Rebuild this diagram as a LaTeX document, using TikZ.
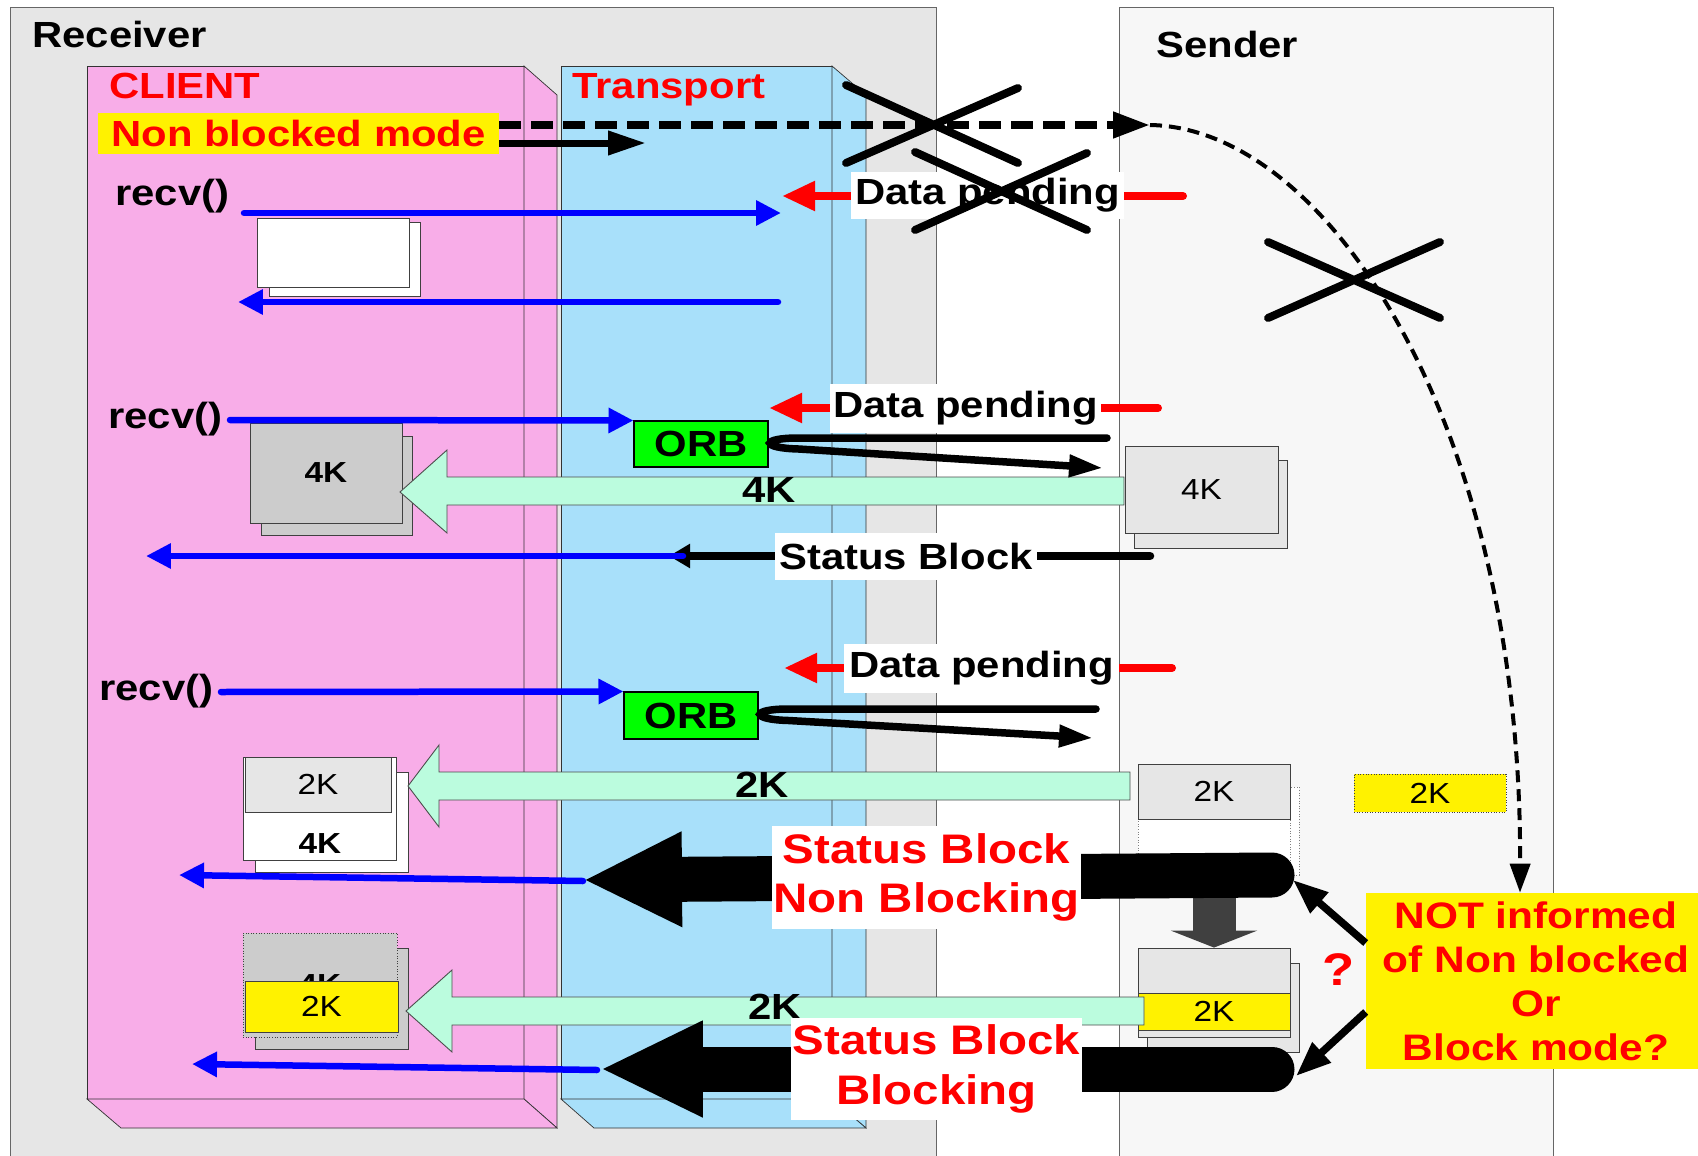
\documentclass[tikz,border=0pt]{standalone}
\usepackage{fontspec}
\setmainfont{Liberation Sans}[FakeStretch=1.15]
\usetikzlibrary{arrows.meta,calc}

\definecolor{recvgray}{HTML}{E6E6E6}
\definecolor{sendgray}{HTML}{F7F7F7}
\definecolor{clientpink}{HTML}{F8ADE8}
\definecolor{transblue}{HTML}{A8E0FA}
\definecolor{mint}{HTML}{BBFCDE}
\definecolor{docgray}{HTML}{E6E6E6}
\definecolor{docdark}{HTML}{CCCCCC}
\definecolor{orbgreen}{HTML}{00FF00}
\definecolor{callblue}{HTML}{0000FF}
\definecolor{downgray}{HTML}{404040}

\newcommand{\lblfont}{\fontsize{20.7}{24}\selectfont\bfseries}
\newcommand{\redfont}{\fontsize{23.5}{28.3}\selectfont\bfseries}
\newcommand{\notefont}{\fontsize{21}{25}\selectfont\bfseries}
\newcommand{\docfont}{\fontsize{16.5}{19}\selectfont}

\tikzset{
  lbl/.style={font=\lblfont, inner sep=0pt},
  tag/.style={fill=white, font=\lblfont, inner sep=0pt},
  doc/.style={draw=black!75, line width=0.5pt, inner sep=0pt, font=\docfont},
  orb/.style={draw, fill=orbgreen, font=\lblfont, inner sep=0pt, line width=0.6pt},
  xfer/.style={fill=mint, draw=black!70, line width=0.5pt},
  bluearr/.style={draw=callblue, line width=0.13cm, line cap=round, -{Triangle[length=0.5cm,width=0.48cm]}},
  redarr/.style={draw=red, line width=0.16cm, line cap=round, -{Triangle[length=0.66cm,width=0.56cm]}},
  loopline/.style={line width=0.15cm, line cap=round, -{Triangle[length=0.68cm,width=0.42cm]}},
  fat/.style={line width=0.9cm, line cap=round},
  notearr/.style={line width=0.15cm, -{Triangle[length=0.7cm,width=0.52cm]}},
  cross/.style={line width=0.16cm, line cap=round}
}

\begin{document}
\begin{tikzpicture}[x=0.02cm,y=-0.02cm]
\useasboundingbox (0,0) rectangle (1698,1156);

\draw[draw=black!60, fill=recvgray] (10,7) rectangle (936,1175);
\draw[draw=black!60, fill=sendgray] (1119,7) rectangle (1553,1175);

\draw[draw=black!80, fill=clientpink] (87,66) rectangle (524,1099);
\draw[draw=black!80, fill=clientpink] (524,66) -- (557,95) -- (557,1128) -- (524,1099) -- cycle;
\draw[draw=black!80, fill=clientpink] (87,1099) -- (524,1099) -- (557,1128) -- (121,1128) -- cycle;
\draw[draw=black!80, fill=transblue] (561,66) rectangle (832,1099);
\draw[draw=black!80, fill=transblue] (832,66) -- (866,95) -- (866,1128) -- (832,1099) -- cycle;
\draw[draw=black!80, fill=transblue] (561,1099) -- (832,1099) -- (866,1128) -- (594,1128) -- cycle;

\node[lbl, anchor=base west] (recvtitle) at (32,48) {Receiver};
\node[lbl, anchor=base west] (sendtitle) at (1156,57) {Sender};
\node[lbl, anchor=base west, text=red] (clienttitle) at (109,98) {CLIENT};
\node[lbl, anchor=base west, text=red] (transtitle) at (572,98) {Transport};

\node[lbl, anchor=base west] (recvA) at (115,205) {recv()};
\node[lbl, anchor=base west] (recvB) at (108,428) {recv()};
\node[lbl, anchor=base west] (recvC) at (99,700) {recv()};

% receive buffers
\draw[doc, fill=white] (269,222) rectangle (420,296);
\draw[doc, fill=white] (257,218) rectangle (409,287);
\draw[doc, fill=docdark] (261,436) rectangle (412,535);
\node[doc, fill=docdark, font=\docfont\bfseries, minimum width=3.04cm, minimum height=2cm] (bufA) at (326,473) {4K};
\draw[doc, fill=white] (255,772) rectangle (408,872);
\draw[doc, fill=white] (243,757) rectangle (396,860);
\node[doc, fill=docgray, minimum width=2.92cm, minimum height=1.1cm] (bufB) at (318,784.5) {2K};
\node[font=\docfont\bfseries, inner sep=0pt] (bufBold) at (320,844) {4K};
\draw[doc, fill=docdark] (255,948) rectangle (408,1049);
\node[doc, densely dotted, fill=docdark, font=\docfont\bfseries, minimum width=3.08cm, minimum height=2.08cm] (bufC) at (320,985) {4K};
\node[doc, fill=yellow, minimum width=3.06cm, minimum height=1.02cm] (bufCnew) at (321.5,1006.5) {2K};

% send buffers
\draw[doc, fill=docgray] (1134,460) rectangle (1287,548);
\node[doc, fill=docgray, minimum width=3.06cm, minimum height=1.74cm] (sbufA) at (1201.5,489.5) {4K};
\draw[doc, densely dotted, draw=black!50, fill=white] (1147,787) rectangle (1299,875);
\node[doc, densely dotted, draw=black!50, fill=white, minimum width=3.04cm, minimum height=2.16cm] (sbufB) at (1214,818) {};
\node[doc, fill=docgray, minimum width=3.04cm, minimum height=1.1cm] (sbufBtop) at (1214,791.5) {2K};
\node[doc, densely dotted, fill=yellow, minimum width=3.04cm, minimum height=0.76cm] (spare) at (1430,793) {2K};
\draw[doc, fill=docgray] (1147,963) rectangle (1299,1052);
\node[doc, fill=docgray, minimum width=3.04cm, minimum height=1.78cm] (sbufC) at (1214,992.5) {};
\node[doc, fill=yellow, minimum width=3.04cm, minimum height=0.74cm] (sbufCnew) at (1214,1011.5) {2K};

% transfers
\draw[xfer] (400,492) -- (447,450) -- (447,477) -- (1124,477) -- (1124,505) -- (447,505) -- (447,533) -- cycle;
\draw[xfer] (408,786) -- (439,745) -- (439,772) -- (1130,772) -- (1130,800) -- (439,800) -- (439,827) -- cycle;
\draw[xfer] (406,1011) -- (452,970) -- (452,997) -- (1144,997) -- (1144,1025) -- (452,1025) -- (452,1052) -- cycle;
\node[lbl] (xferA) at (769,490) {4K};
\node[lbl] (xferB) at (762,785) {2K};
\node[lbl] (xferC) at (775,1007) {2K};

\draw[line width=0.86cm, downgray, -{Triangle[length=0.34cm,width=1.72cm]}] (sbufB.south) -- (sbufC.north);

\coordinate (bkAend) at (1272,875);
\coordinate (bkAtip) at (583,880);
\coordinate (bkBend) at (1272,1069);
\coordinate (bkBtip) at (600,1069);
\draw[fat, -{Triangle[length=1.98cm,width=1.76cm]}] (bkAend) -- (bkAtip);
\draw[fat, -{Triangle[length=2.06cm,width=1.78cm]}] (bkBend) -- (bkBtip);

\coordinate (dpAend) at (1183,196);
\coordinate (dpAtip) at (782,196);
\coordinate (dpBend) at (1158,408);
\coordinate (dpBtip) at (769,408);
\coordinate (dpCend) at (1172,668);
\coordinate (dpCtip) at (784,668);
\draw[redarr] (dpAend) -- (dpAtip);
\draw[redarr] (dpBend) -- (dpBtip);
\draw[redarr] (dpCend) -- (dpCtip);

\coordinate (sbAend) at (1150,556);
\coordinate (sbAtip) at (669,556);
\draw[line width=0.17cm, line cap=round, -{Triangle[length=0.42cm,width=0.46cm]}] (sbAend) -- (sbAtip);

\node[tag, minimum width=5.46cm, minimum height=0.94cm] (dpA) at (987.5,195.5) {Data pending};
\node[tag, minimum width=5.42cm, minimum height=0.98cm] (dpB) at (965.5,408.5) {Data pending};
\node[tag, minimum width=5.5cm, minimum height=0.98cm] (dpC) at (981.5,668.5) {Data pending};
\node[tag, minimum width=5.24cm, minimum height=0.94cm] (sbA) at (906,556.5) {Status Block};
\node[tag, font=\redfont, text=red, align=center, minimum width=6.18cm, minimum height=2.06cm] (sbB) at (926.5,877.5) {Status Block\\Non Blocking};
\node[tag, font=\redfont, text=red, align=center, minimum width=5.82cm, minimum height=2.04cm] (sbC) at (936.5,1069) {Status Block\\Blocking};

\node[orb, minimum width=2.68cm, minimum height=0.92cm] (orbA) at (701,444) {ORB};
\node[orb, minimum width=2.68cm, minimum height=0.94cm] (orbB) at (691,715.5) {ORB};

\coordinate (loopAin) at (1107,438);
\coordinate (loopAout) at (1103,468);
\coordinate (loopBin) at (1096,709);
\coordinate (loopBout) at (1093,738);
\draw[loopline] (loopAin) -- ($(orbA.east)+(30,-6)$) .. controls ($(orbA.east)+(-8,-6)$) and ($(orbA.east)+(-8,4)$) .. ($(orbA.east)+(30,5)$) -- (loopAout);
\draw[loopline] (loopBin) -- ($(orbB.east)+(30,-6.5)$) .. controls ($(orbB.east)+(-8,-6.5)$) and ($(orbB.east)+(-8,4)$) .. ($(orbB.east)+(30,5)$) -- (loopBout);

\coordinate (callA) at (244,213);
\coordinate (callAend) at (781,213);
\coordinate (backA) at (778,302);
\coordinate (backAend) at (238,302);
\coordinate (callB) at (230,420);
\coordinate (callC) at (221,692);
\coordinate (doneA) at (683,556);
\coordinate (doneAend) at (146,556);
\coordinate (doneB) at (583,881);
\coordinate (doneBend) at (179,875);
\coordinate (doneC) at (597,1070);
\coordinate (doneCend) at (192,1064);
\draw[bluearr] (callA) -- (callAend);
\draw[bluearr] (backA) -- (backAend);
\draw[bluearr] (callB) -- (orbA.north west);
\draw[bluearr] (callC) -- (orbB.north west);
\draw[bluearr] (doneA) -- (doneAend);
\draw[bluearr] (doneB) -- (doneBend);
\draw[bluearr] (doneC) -- (doneCend);

\node[fill=yellow, font=\lblfont, text=red, inner sep=0pt, minimum width=8.02cm, minimum height=0.82cm] (nbm) at (298.5,133.5) {Non blocked mode};
\node[fill=yellow, font=\notefont, text=red, align=center, inner sep=0pt, minimum width=6.8cm, minimum height=3.52cm] (notinf) at (1536,981) {NOT informed\\of Non blocked\\Or\\Block mode?};

\coordinate (notice) at (1150,125);
\coordinate (push) at (646,143);
\draw[line width=0.15cm, dash pattern=on 0.44cm off 0.2cm, -{Triangle[length=0.74cm,width=0.5cm]}] (nbm.east |- notice) -- (notice);
\draw[line width=0.14cm, -{Triangle[length=0.76cm,width=0.46cm]}] (nbm.east |- push) -- (push);
\draw[line width=0.08cm, dash pattern=on 0.24cm off 0.14cm, -{Triangle[length=0.58cm,width=0.4cm]}] (notice) .. controls (1330,128) and (1522,430) .. ($(notinf.north)+(-16,0)$);

\draw[cross] (846,85) -- (1018,163) (1018,88) -- (846,163);
\draw[cross] (915,152) -- (1087,230) (1087,153) -- (915,230);
\draw[cross] (1268,242) -- (1440,318) (1440,242) -- (1268,318);

\coordinate (askA) at (1293,880);
\coordinate (askB) at (1296,1076);
\draw[notearr] ($(notinf.west)+(0,-38)$) -- (askA);
\draw[notearr] ($(notinf.west)+(0,31)$) -- (askB);
\node[font=\fontsize{26}{30}\selectfont\bfseries, text=red, inner sep=0pt] (ask) at (1339,970) {?};
\end{tikzpicture}
\end{document}
